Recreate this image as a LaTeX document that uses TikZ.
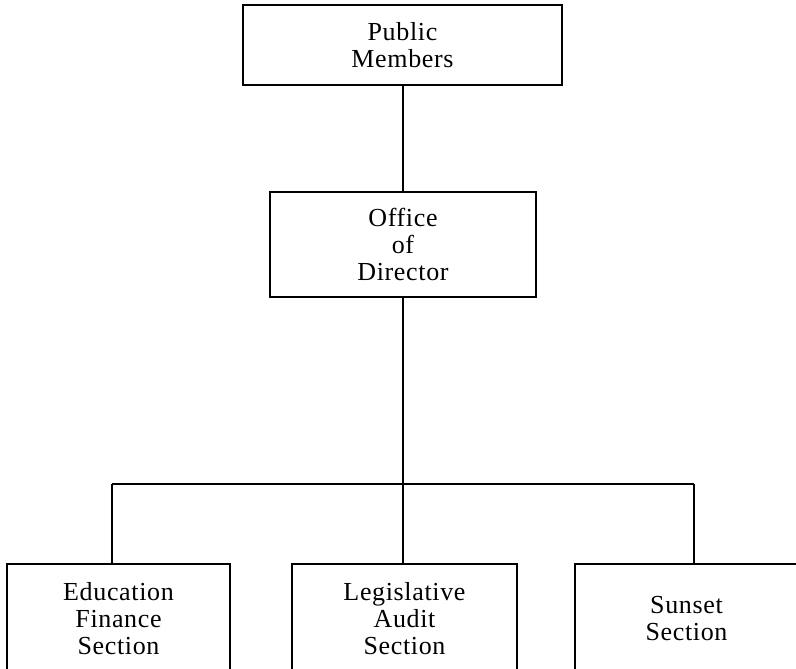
\documentclass[tikz,border=0pt]{standalone}
\usepackage{fontspec}
\setmainfont{Liberation Serif}[LetterSpace=2.5]
\begin{document}
\begin{tikzpicture}[x=1pt,y=-1pt,
  orgbox/.style={draw=black,line width=1.7pt,fill=white,inner sep=0pt,align=center,
     font=\fontsize{26}{27}\selectfont},
  link/.style={line width=1.7pt}]
\useasboundingbox (0,0) rectangle (796,669);
\clip (0,0) rectangle (796,669);
\node[orgbox,minimum width=319pt,minimum height=80pt] (pub) at (402.5,45) {Public\\Members};
\node[orgbox,minimum width=266pt,minimum height=105pt] (dir) at (403,244.5) {Office\\of\\Director};
\node[orgbox,minimum width=223pt,minimum height=110pt] (edu) at (118.5,619) {Education\\Finance\\Section};
\node[orgbox,minimum width=225pt,minimum height=110pt] (leg) at (404.5,619) {Legislative\\Audit\\Section};
\node[orgbox,minimum width=223pt,minimum height=110pt] (sun) at (686.5,619) {Sunset\\Section};
\coordinate (bus) at (403,484);
\coordinate (busL) at (112,484);
\coordinate (busR) at (694,484);
\draw[link] (pub.south -| bus) -- (dir.north -| bus);
\draw[link] (dir.south -| bus) -- (bus);
\draw[link] (busL) -- (busR);
\draw[link] (busL) -- (edu.north -| busL);
\draw[link] (bus) -- (leg.north -| bus);
\draw[link] (busR) -- (sun.north -| busR);
\end{tikzpicture}
\end{document}
